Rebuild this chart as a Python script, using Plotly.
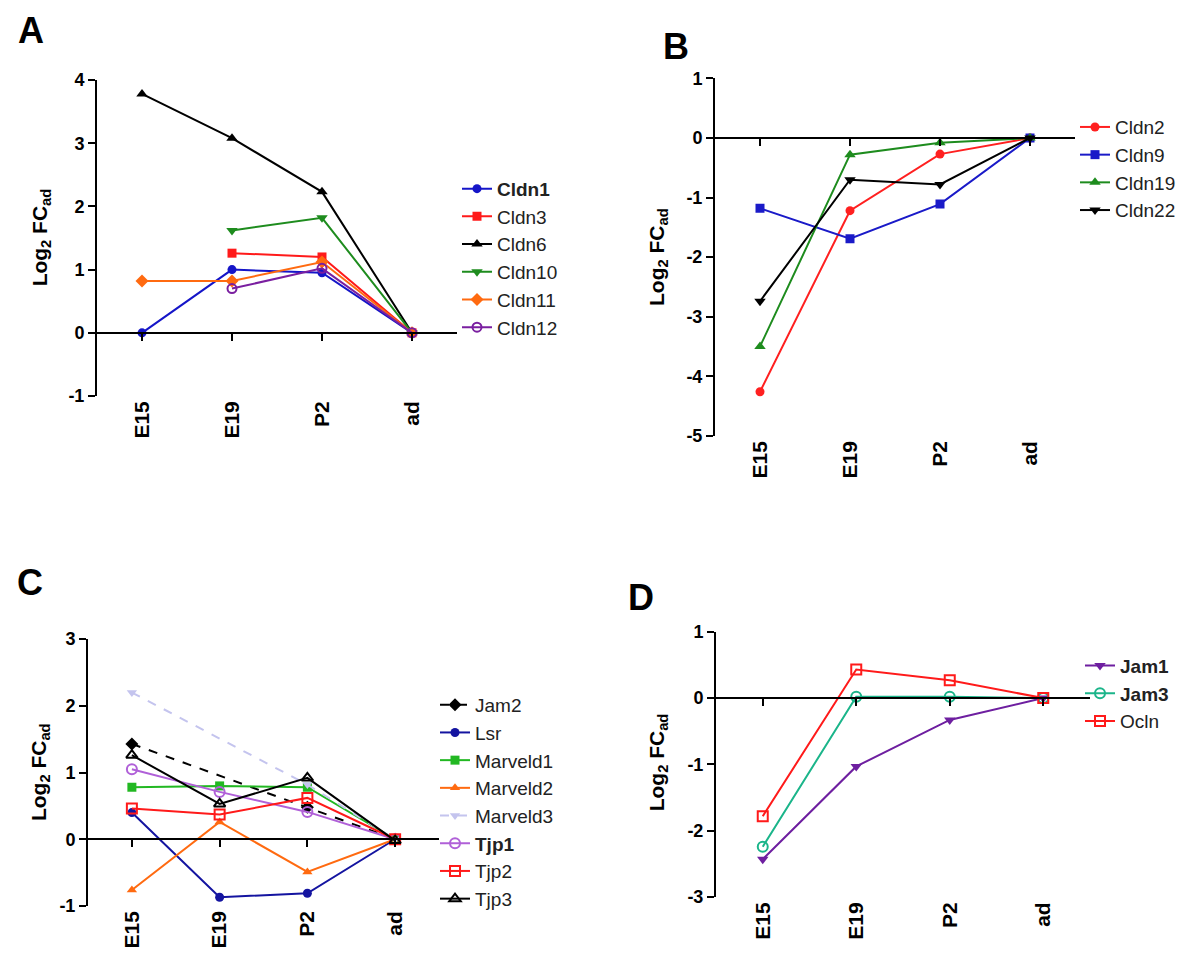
import plotly.graph_objects as go

# ---------------- data ----------------
stages = ["E15", "E19", "P2", "ad"]

# Panel A
a_names = ["<b>Cldn1</b>", "Cldn3", "Cldn6", "Cldn10", "Cldn11", "Cldn12"]
cldn1 = [0.0, 1.00, 0.95, 0.0]
cldn3 = [None, 1.26, 1.20, 0.0]
cldn6 = [3.78, 3.08, 2.23, 0.0]
cldn10 = [None, 1.62, 1.82, 0.0]
cldn11 = [0.82, 0.82, 1.12, 0.0]
cldn12 = [None, 0.70, 1.02, 0.0]

# Panel B
b_names = ["Cldn2", "Cldn9", "Cldn19", "Cldn22"]
cldn2 = [-4.26, -1.22, -0.27, 0.0]
cldn9 = [-1.18, -1.69, -1.11, 0.0]
cldn19 = [-3.50, -0.28, -0.08, 0.0]
cldn22 = [-2.74, -0.70, -0.78, 0.0]

# Panel C
c_names = ["Jam2", "Lsr", "Marveld1", "Marveld2", "Marveld3", "<b>Tjp1</b>", "Tjp2", "Tjp3"]
jam2 = [1.43, None, 0.48, 0.0]
lsr = [0.40, -0.87, -0.81, 0.0]
marveld1 = [0.78, 0.80, 0.78, 0.0]
marveld2 = [-0.76, 0.26, -0.49, 0.0]
marveld3 = [2.20, None, 0.82, 0.0]
tjp1 = [1.05, 0.71, 0.41, 0.0]
tjp2 = [0.46, 0.37, 0.62, 0.0]
tjp3 = [1.26, 0.53, 0.92, -0.02]

# Panel D
d_names = ["<b>Jam1</b>", "<b>Jam3</b>", "Ocln"]
jam1 = [-2.43, -1.03, -0.33, 0.0]
jam3 = [-2.24, 0.02, 0.02, 0.0]
ocln = [-1.78, 0.43, 0.27, 0.0]

y_ticks_a = [-1, 0, 1, 2, 3, 4]
y_ticks_b = [-5, -4, -3, -2, -1, 0, 1]
y_ticks_c = [-1, 0, 1, 2, 3]
y_ticks_d = [-3, -2, -1, 0, 1]

# ---------------- layout helpers ----------------
W, H = 1200, 967
FONT = "Arial"


def fx(px):
    return px / W


def fy(py):
    return 1 - py / H


panels = {
    # key: (x_left_px, x_right_px, y_top_px, y_bottom_px, yrange, ticks)
    "A": (89, 449, 63.3, 386, [-1, 4], y_ticks_a),
    "B": (707, 1067, 61.7, 426.7, [-5, 1], y_ticks_b),
    "C": (80, 431, 634.3, 906.7, [-1, 3], y_ticks_c),
    "D": (708, 1082, 626.7, 897.7, [-3, 1], y_ticks_d),
}

series = {
    "A": [
        (a_names[0], cldn1, "#1515C8", "circle", "solid", 9),
        (a_names[1], cldn3, "#FF1A1A", "square", "solid", 9),
        (a_names[2], cldn6, "#000000", "triangle-up", "solid", 10),
        (a_names[3], cldn10, "#1E8C1E", "triangle-down", "solid", 10),
        (a_names[4], cldn11, "#FF6A10", "diamond", "solid", 10),
        (a_names[5], cldn12, "#7A1FA0", "circle-open", "solid", 9),
    ],
    "B": [
        (b_names[0], cldn2, "#FF2020", "circle", "solid", 9),
        (b_names[1], cldn9, "#1A1AC8", "square", "solid", 9),
        (b_names[2], cldn19, "#1E8C1E", "triangle-up", "solid", 10),
        (b_names[3], cldn22, "#000000", "triangle-down", "solid", 10),
    ],
    "C": [
        (c_names[0], jam2, "#000000", "diamond", "dash", 10),
        (c_names[1], lsr, "#1414A0", "circle", "solid", 9),
        (c_names[2], marveld1, "#22B822", "square", "solid", 9),
        (c_names[3], marveld2, "#FF6A10", "triangle-up", "solid", 9),
        (c_names[4], marveld3, "#C4C4EE", "triangle-down", "dash", 9),
        (c_names[5], tjp1, "#B060D8", "circle-open", "solid", 10),
        (c_names[6], tjp2, "#FF1A1A", "square-open", "solid", 10),
        (c_names[7], tjp3, "#000000", "triangle-up-open", "solid", 10),
    ],
    "D": [
        (d_names[0], jam1, "#6E1FA0", "triangle-down", "solid", 10),
        (d_names[1], jam3, "#1BB58A", "circle-open", "solid", 10),
        (d_names[2], ocln, "#FF1A1A", "square-open", "solid", 10),
    ],
}

legend_pos = {  # (left px, top px)
    "A": (449, 155),
    "B": (1067, 92),
    "C": (427, 682),
    "D": (1072, 642),
}

# centre of the label box (glyphs sit somewhat below the box centre)
label_pos = {"A": (23, 12), "B": (668, 29), "C": (22, 576), "D": (633, 591)}
title_pos = {"A": (33, 224), "B": (650, 244), "C": (32, 770), "D": (650, 760)}

fig = go.Figure()
layout = dict(
    width=W,
    height=H,
    margin=dict(l=0, r=0, t=0, b=0),
    paper_bgcolor="white",
    plot_bgcolor="white",
    font=dict(family=FONT, color="black"),
    annotations=[],
    showlegend=True,
)

for i, key in enumerate(["A", "B", "C", "D"]):
    n = i + 1
    xl, xr, yt, yb, yr, yt_vals = panels[key]
    xname = "x" if n == 1 else f"x{n}"
    yname = "y" if n == 1 else f"y{n}"
    lname = "legend" if n == 1 else f"legend{n}"
    xdom = [fx(xl), fx(xr)]
    ydom = [fy(yb), fy(yt)]

    for name, vals, color, sym, dash, size in series[key]:
        open_m = "open" in sym
        fig.add_trace(
            go.Scatter(
                x=stages,
                y=vals,
                name=name,
                mode="lines+markers",
                connectgaps=True,
                line=dict(color=color, width=2, dash=dash),
                marker=dict(
                    symbol=sym,
                    size=size,
                    color=color,
                    line=dict(color=color, width=2 if open_m else 0),
                ),
                xaxis=xname,
                yaxis=yname,
                legend=lname,
            )
        )

    # main axes
    layout["xaxis" if n == 1 else f"xaxis{n}"] = dict(
        domain=xdom,
        anchor=yname,
        type="category",
        categoryorder="array",
        categoryarray=stages,
        range=[-0.5, 3.5],
        showline=False,
        showgrid=False,
        zeroline=False,
        ticks="",
        tickangle=-90,
        ticklabelstandoff=0,
        tickfont=dict(family=FONT, size=21, weight="bold"),
    )
    layout["yaxis" if n == 1 else f"yaxis{n}"] = dict(
        domain=ydom,
        anchor=xname,
        range=yr,
        tickmode="array",
        tickvals=yt_vals,
        ticktext=[str(v) for v in yt_vals],
        showline=True,
        linecolor="black",
        linewidth=2,
        ticks="outside",
        ticklen=7,
        tickwidth=2,
        tickcolor="black",
        showgrid=False,
        zeroline=False,
        tickfont=dict(family=FONT, size=18, weight="bold"),
    )

    # zero baseline with ticks (overlay axis positioned at y = 0)
    m = n + 4
    zero_pos = ydom[0] + (0 - yr[0]) / (yr[1] - yr[0]) * (ydom[1] - ydom[0])
    layout[f"xaxis{m}"] = dict(
        domain=xdom,
        overlaying=xname,
        anchor="free",
        position=zero_pos,
        side="bottom",
        range=[-0.5, 3.5],
        tickmode="array",
        tickvals=list(range(len(stages))),
        showticklabels=False,
        showline=True,
        linecolor="black",
        linewidth=2,
        ticks="outside",
        ticklen=7,
        tickwidth=2,
        tickcolor="black",
        showgrid=False,
        zeroline=False,
    )
    fig.add_trace(
        go.Scatter(x=[], y=[], xaxis=f"x{m}", yaxis=yname, showlegend=False, hoverinfo="skip")
    )

    lx, ly = legend_pos[key]
    layout[lname] = dict(
        x=fx(lx),
        y=fy(ly),
        xanchor="left",
        yanchor="top",
        xref="paper",
        yref="paper",
        bgcolor="rgba(0,0,0,0)",
        font=dict(family=FONT, size=19, color="#222222"),
        itemwidth=30,
        tracegroupgap=0,
    )

    px_, py_ = label_pos[key]
    layout["annotations"].append(
        dict(
            text=f"<b>{key}</b>",
            x=fx(px_),
            y=fy(py_),
            xref="paper",
            yref="paper",
            showarrow=False,
            xanchor="center",
            yanchor="middle",
            height=30,
            valign="middle",
            font=dict(family=FONT, size=36, color="black"),
        )
    )
    tx, ty = title_pos[key]
    layout["annotations"].append(
        dict(
            text="<b>Log<sub>2</sub> FC<sub>ad</sub></b>",
            x=fx(tx),
            y=fy(ty),
            xref="paper",
            yref="paper",
            showarrow=False,
            textangle=-90,
            xanchor="center",
            yanchor="middle",
            font=dict(family=FONT, size=21, color="black"),
        )
    )

fig.update_layout(**layout)
fig.write_html("out.html")
